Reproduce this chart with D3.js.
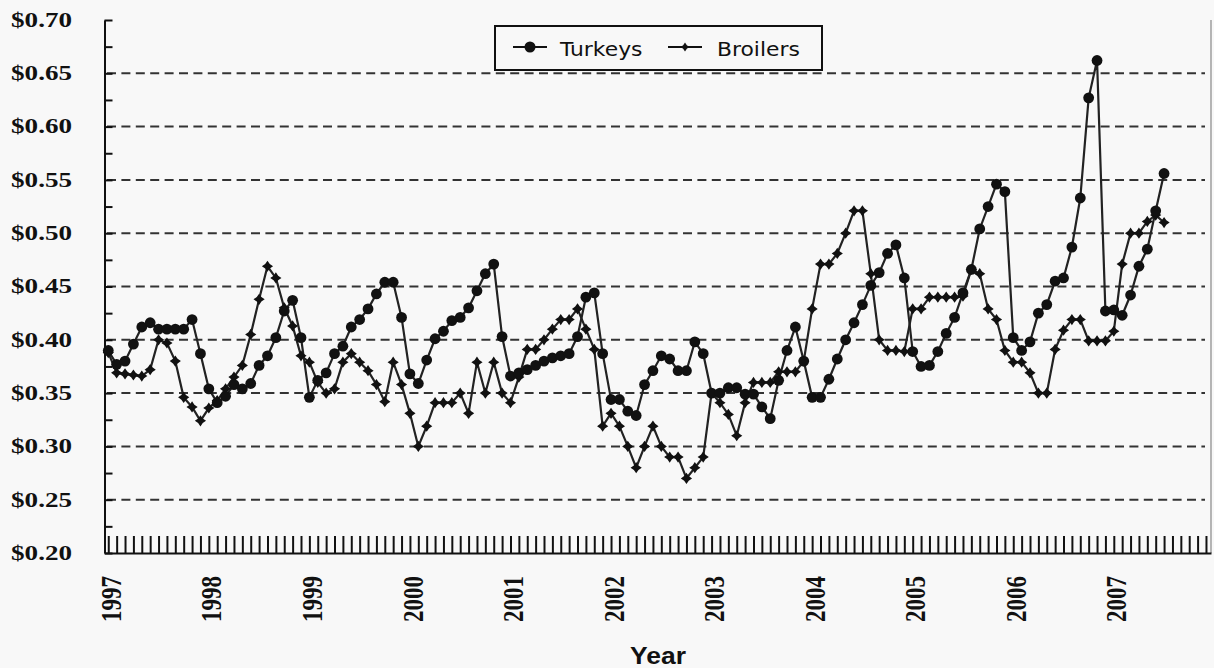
<!DOCTYPE html>
<html><head><meta charset="utf-8">
<script src="https://cdn.jsdelivr.net/npm/d3@7/dist/d3.min.js"></script>
<style>html,body{margin:0;padding:0;background:#f8f8f8;} svg{display:block;}</style>
</head><body>
<svg id="chart" width="1214" height="668"></svg>
<script>
// ---- data ----
const yearLabels = ["1997","1998","1999","2000","2001","2002","2003","2004","2005","2006","2007"];
const seriesNames = ["Turkeys","Broilers"];
const yTickLabels = [0.20,0.25,0.30,0.35,0.40,0.45,0.50,0.55,0.60,0.65,0.70];
// monthly prices, Jan 1997 - Jul 2007
const turkeys = [
 0.390,0.377,0.380,0.396,0.412,0.416,0.410,0.410,0.410,0.410,0.419,0.387,
 0.354,0.341,0.347,0.358,0.354,0.359,0.376,0.385,0.402,0.427,0.437,0.402,
 0.346,0.362,0.369,0.387,0.394,0.412,0.419,0.429,0.443,0.454,0.454,0.421,
 0.368,0.359,0.381,0.401,0.408,0.418,0.421,0.430,0.446,0.462,0.471,0.403,
 0.366,0.369,0.372,0.376,0.380,0.383,0.385,0.387,0.403,0.440,0.444,0.387,
 0.344,0.344,0.333,0.329,0.358,0.371,0.385,0.382,0.371,0.371,0.398,0.387,
 0.350,0.350,0.355,0.355,0.349,0.349,0.337,0.326,0.362,0.390,0.412,0.380,
 0.346,0.346,0.363,0.382,0.400,0.416,0.433,0.451,0.463,0.481,0.489,0.458,
 0.389,0.375,0.376,0.389,0.406,0.421,0.444,0.466,0.504,0.525,0.546,0.539,
 0.402,0.390,0.398,0.425,0.433,0.455,0.458,0.487,0.533,0.627,0.662,0.427,
 0.428,0.423,0.442,0.469,0.485,0.521,0.556
];
const broilers = [
 0.388,0.369,0.368,0.367,0.366,0.372,0.400,0.397,0.380,0.346,0.337,0.324,
 0.336,0.343,0.354,0.365,0.376,0.405,0.438,0.469,0.458,0.430,0.413,0.385,
 0.379,0.360,0.350,0.354,0.379,0.387,0.379,0.371,0.358,0.342,0.379,0.358,
 0.331,0.300,0.319,0.341,0.341,0.341,0.350,0.331,0.379,0.350,0.379,0.350,
 0.341,0.365,0.391,0.391,0.400,0.410,0.419,0.419,0.429,0.410,0.391,0.319,
 0.331,0.319,0.300,0.280,0.300,0.319,0.300,0.290,0.290,0.270,0.280,0.290,
 0.350,0.341,0.330,0.310,0.341,0.360,0.360,0.360,0.370,0.370,0.370,0.380,
 0.429,0.471,0.471,0.481,0.500,0.521,0.521,0.462,0.400,0.390,0.390,0.389,
 0.429,0.429,0.440,0.440,0.440,0.440,0.441,0.466,0.462,0.429,0.419,0.390,
 0.379,0.379,0.369,0.350,0.350,0.391,0.409,0.419,0.419,0.399,0.399,0.399,
 0.408,0.471,0.500,0.500,0.511,0.517,0.510
];
const monthTickCount = 132;

// ---- layout ----
const svg = d3.select("#chart");
svg.append("rect").attr("width",1214).attr("height",668).attr("fill","#f8f8f8");
const x = d3.scaleLinear().domain([-0.45, 131.6]).range([104.5, 1211]);
const y = d3.scaleLinear().domain([0.20, 0.70]).range([553, 20]);
const ink = "#111";

// gridlines
svg.append("g").selectAll("line").data(yTickLabels.filter(v => v > 0.21 && v < 0.69)).join("line")
  .attr("x1", 107).attr("x2", 1205)
  .attr("y1", d => y(d)).attr("y2", d => y(d))
  .attr("stroke", "#333").attr("stroke-width", 2).attr("stroke-dasharray", "9,5.4");

// right frame line
svg.append("line").attr("x1",1211).attr("x2",1211).attr("y1",y(0.70)).attr("y2",y(0.20))
  .attr("stroke","#888").attr("stroke-width",1.2);

// y axis with inward ticks every 0.025
const yMinor = d3.range(0, 21).map(k => 0.20 + k*0.025);
const yAxis = d3.axisLeft(y).tickValues(yMinor).tickSizeInner(-8).tickSizeOuter(0).tickFormat("");
const gy = svg.append("g").attr("transform","translate(104.5,0)").call(yAxis);
gy.selectAll("path,line").attr("stroke", ink).attr("stroke-width", 2);

// x axis: monthly ticks pointing up
const xAxis = d3.axisBottom(x).tickValues(d3.range(monthTickCount)).tickSizeInner(-17).tickSizeOuter(0).tickFormat("");
const gx = svg.append("g").attr("transform","translate(0,553)").call(xAxis);
gx.selectAll("path,line").attr("stroke", ink).attr("stroke-width", 2);

// y labels
svg.append("g").selectAll("text").data(yTickLabels).join("text")
  .attr("transform", d => `translate(72,${y(d)}) scale(1.355,1)`)
  .attr("text-anchor","end").attr("dy","0.34em")
  .attr("font-family","'Liberation Serif','DejaVu Serif',serif").attr("font-weight","bold")
  .attr("font-size",20).attr("fill",ink)
  .text(d => "$" + d.toFixed(2));

// year labels (rotated)
svg.append("g").selectAll("text").data(yearLabels).join("text")
  .attr("transform", (d,i) => `translate(${x(i*12)+2.4},576) scale(1.3,1) rotate(-90)`)
  .attr("text-anchor","end").attr("dy","0.34em")
  .attr("font-family","'Liberation Serif','DejaVu Serif',serif").attr("font-weight","bold")
  .attr("font-size",23).attr("fill",ink)
  .text(d => d);

// axis title
svg.append("text").attr("transform","translate(658,664) scale(1.15,1)")
  .attr("text-anchor","middle")
  .attr("font-family","'Liberation Sans',Arial,sans-serif").attr("font-weight","bold")
  .attr("font-size",23).attr("fill",ink).text("Year");

// series
const line = d3.line().x((d,i) => x(i)).y(d => y(d));
const diamond = "M0,-5.6L2.3,-2.3L5.6,0L2.3,2.3L0,5.6L-2.3,2.3L-5.6,0L-2.3,-2.3Z";

svg.append("path").datum(broilers).attr("d", line).attr("fill","none").attr("stroke","#222").attr("stroke-width",2.2);
svg.append("path").datum(turkeys).attr("d", line).attr("fill","none").attr("stroke","#222").attr("stroke-width",2.2);

svg.append("g").selectAll("path").data(broilers).join("path")
  .attr("d", diamond).attr("transform",(d,i)=>`translate(${x(i)},${y(d)})`).attr("fill",ink);
svg.append("g").selectAll("circle").data(turkeys).join("circle")
  .attr("cx",(d,i)=>x(i)).attr("cy",d=>y(d)).attr("r",5.4).attr("fill",ink);

// legend
const lg = svg.append("g");
lg.append("rect").attr("x",495).attr("y",26).attr("width",327).attr("height",44)
  .attr("fill","#f8f8f8").attr("stroke",ink).attr("stroke-width",2);
lg.append("line").attr("x1",513).attr("x2",547).attr("y1",47).attr("y2",47).attr("stroke",ink).attr("stroke-width",2);
lg.append("circle").attr("cx",530).attr("cy",47).attr("r",5.5).attr("fill",ink);
lg.append("text").attr("transform","translate(560,56) scale(1.15,1)")
  .attr("font-family","'DejaVu Sans',sans-serif").attr("font-size",19).attr("fill",ink).text(seriesNames[0]);
lg.append("line").attr("x1",668).attr("x2",702).attr("y1",47).attr("y2",47).attr("stroke",ink).attr("stroke-width",2);
lg.append("path").attr("d",diamond).attr("transform","translate(685,47) scale(0.8)").attr("fill",ink);
lg.append("text").attr("transform","translate(717,56) scale(1.15,1)")
  .attr("font-family","'DejaVu Sans',sans-serif").attr("font-size",19).attr("fill",ink).text(seriesNames[1]);
</script>
</body></html>
